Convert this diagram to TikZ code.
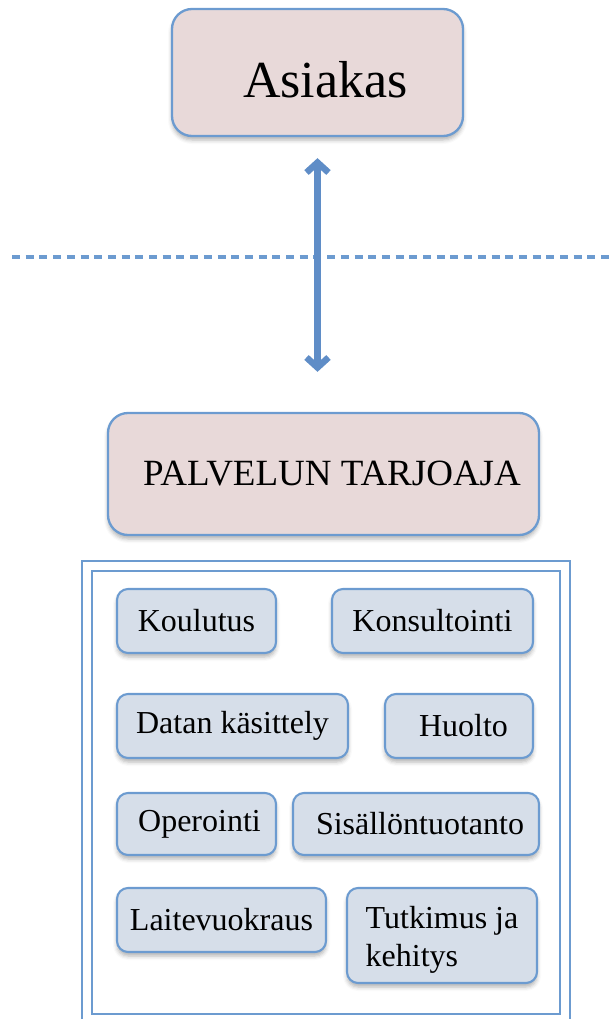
\documentclass[tikz,border=0pt]{standalone}
\usepackage{fontspec}
\setmainfont{Liberation Serif}
\usetikzlibrary{arrows.meta,shadows.blur}

\definecolor{edge}{HTML}{6C9BD0}
\definecolor{arrowblue}{HTML}{5F8DC7}
\definecolor{pinkfill}{HTML}{E8D9D9}
\definecolor{bluefill}{HTML}{D6DEE9}

\tikzset{
  softshadow/.style={blur shadow={shadow xshift=0pt, shadow yshift=-4pt,
      shadow blur radius=4pt, shadow opacity=30}},
  bigbox/.style={draw=edge, line width=2.3pt, fill=pinkfill, rounded corners=20pt,
      inner sep=0pt, softshadow},
  servicebox/.style={draw=edge, line width=2.1pt, fill=bluefill, rounded corners=11pt,
      inner sep=0pt, minimum height=64pt, softshadow,
      font=\fontsize{32}{38}\selectfont},
  frame/.style={draw=edge, line width=2.2pt},
  divider/.style={draw=edge, line width=3.2pt, dash pattern=on 8pt off 5.7pt},
  link/.style={draw=arrowblue, line width=6.5pt,
      {Straight Barb[length=10pt,width=22pt]}-{Straight Barb[length=10pt,width=22pt]}},
}

\begin{document}
\begin{tikzpicture}[x=1pt,y=-1pt]
\useasboundingbox (0,0) rectangle (613,1019);

% boundary between the two sides
\coordinate (divL) at (12,257);
\coordinate (divR) at (613,257);
\draw[divider] (divL) -- (divR);

% customer and provider
\node[bigbox, minimum width=291pt, minimum height=127pt,
      font=\fontsize{52}{60}\selectfont] (asiakas) at (317.5,72.5)
  {\hspace*{16pt}\raisebox{-7pt}[\height][0pt]{Asiakas}};
\node[bigbox, minimum width=431pt, minimum height=122pt,
      font=\fontsize{37}{44}\selectfont] (palvelu) at (323.5,474)
  {\hspace*{17pt}PALVELUN TARJOAJA};

\draw[link, shorten <=21pt, shorten >=40pt] (asiakas.south) -- (asiakas.south |- palvelu.north);

% double frame holding the services
\coordinate (oBL) at (82,1019);
\coordinate (oTL) at (82,561);
\coordinate (oTR) at (570,561);
\coordinate (oBR) at (570,1019);
\draw[frame] (oBL) -- (oTL) -- (oTR) -- (oBR);
\coordinate (iTL) at (92,571);
\coordinate (iBR) at (560,1014);
\draw[frame] (iTL) rectangle (iBR);

% services
\node[servicebox, minimum width=159pt] (koulutus) at (196.5,621) {Koulutus};
\node[servicebox, minimum width=201pt] (konsultointi) at (432.5,621) {Konsultointi};
\node[servicebox, minimum width=231pt] (datan) at (232.5,726) {Datan käsittely};
\node[servicebox, minimum width=148pt] (huolto) at (459,726) {\hspace*{9pt}Huolto};
\node[servicebox, minimum width=159pt, minimum height=62pt] (operointi) at (196.5,824) {\hspace*{6pt}Operointi};
\node[servicebox, minimum width=246pt, minimum height=62pt] (sisalto) at (416,824) {\hspace*{8pt}Sisällöntuotanto};
\node[servicebox, minimum width=209pt] (laite) at (221.5,920) {Laitevuokraus};
\node[servicebox, minimum width=190pt, minimum height=95pt] (tutkimus) at (442,935.5)
  {\raisebox{-4pt}[\height][\depth]{\begin{tabular}{@{}l@{}}Tutkimus ja\\kehitys\end{tabular}}};
\end{tikzpicture}
\end{document}
